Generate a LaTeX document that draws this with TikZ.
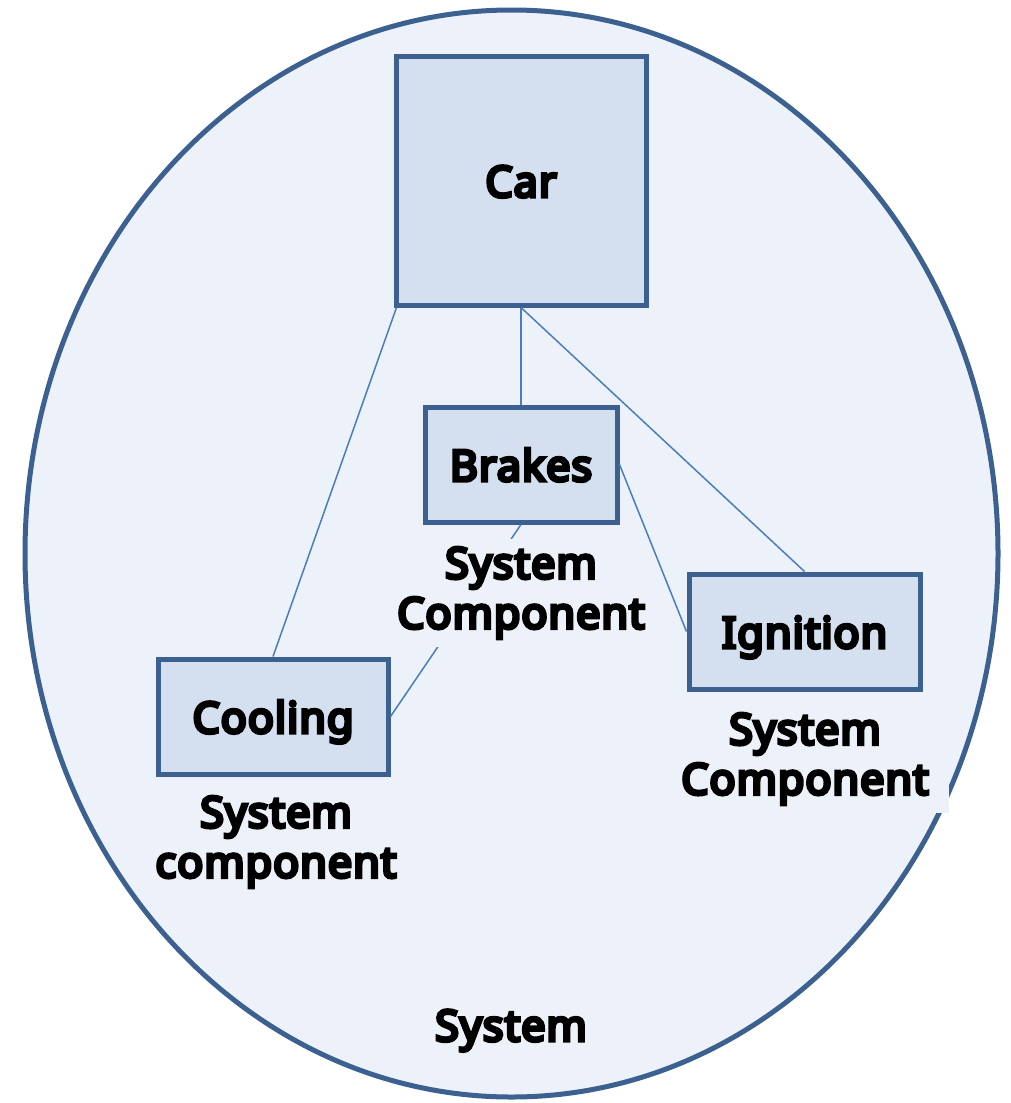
\documentclass[tikz,border=0pt]{standalone}
\usepackage{fontspec}
\setmainfont{Noto Sans}[BoldFont={Noto Sans}, BoldFeatures={FakeBold=8, LetterSpace=2.5}]
\usepackage{xcolor}
\usetikzlibrary{positioning}
\definecolor{rimblue}{HTML}{3C6190}
\definecolor{boxfill}{HTML}{D4E0EF}
\definecolor{sysfill}{HTML}{EDF2FA}
\definecolor{linkblue}{HTML}{4A7EBB}

\begin{document}
\begin{tikzpicture}[x=1pt, y=-1pt,
    part/.style={draw=rimblue, line width=5pt, fill=boxfill, inner sep=0pt, outer sep=2.5pt,
        text height=33pt, text depth=0pt, font=\fontsize{43}{51}\selectfont\bfseries},
    caption/.style={fill=sysfill, align=center, inner xsep=4pt, inner ysep=8pt,
        font=\fontsize{43}{50}\selectfont\bfseries},
    link/.style={draw=linkblue, line width=1.5pt}]
    \useasboundingbox (0,0) rectangle (1010,1103);

    % the system
    \draw[rimblue, line width=5pt, fill=sysfill] (511.5,553.5) ellipse [x radius=486.5pt, y radius=543.5pt];

    % components
    \node[part, minimum width=250pt, minimum height=249pt] (car) at (521,180.5) {Car};
    \node[part, minimum width=192pt, minimum height=115pt] (brakes) at (521,464.5) {Brakes};
    \node[part, minimum width=231pt, minimum height=115pt] (ignition) at (804.5,631.5) {Ignition};
    \node[part, minimum width=230pt, minimum height=115pt] (cooling) at (273,716.5) {Cooling};

    \draw[link] ([xshift=3pt]car.south west) -- (cooling.north);
    \draw[link] (car.south) -- (brakes.north);
    \draw[link] (car.south) -- (ignition.north);
    \draw[link] (brakes.east) -- (ignition.west);
    \draw[link] (brakes.south) -- (cooling.east);

    % captions
    \node[caption] (brakescap) at (521,593) {System\\Component};
    \node[caption, inner xsep=20pt] (ignitioncap) at (805,759) {System\\Component};
    \node[caption] (coolingcap) at (276,842) {System\\component};
    \node[font=\fontsize{43}{50}\selectfont\bfseries, anchor=base] (system) at (511,1041) {System};
\end{tikzpicture}
\end{document}
